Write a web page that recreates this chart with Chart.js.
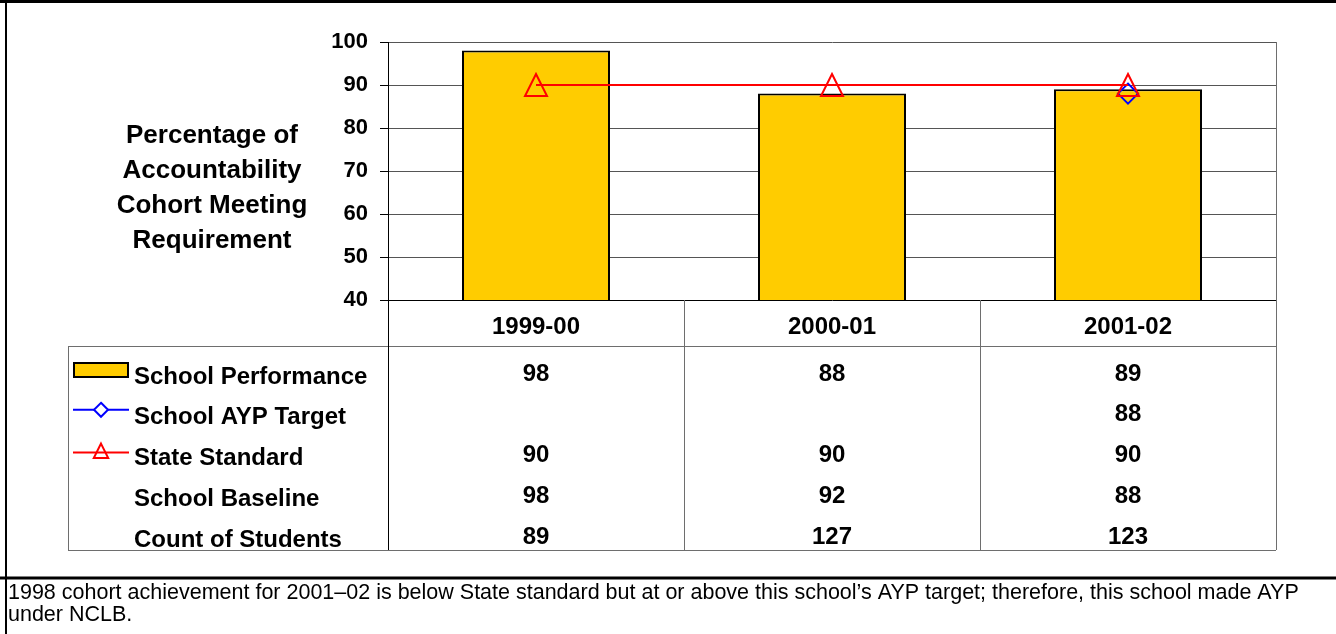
<!DOCTYPE html>
<html>
<head>
<meta charset="utf-8">
<script src="https://cdn.jsdelivr.net/npm/chart.js@4.4.1/dist/chart.umd.min.js"></script>
<style>
  body { margin: 0; background: #fff; }
  .wrap { width: 1336px; height: 634px; position: relative; }
</style>
</head>
<body>
<div class="wrap"><canvas id="chart"></canvas></div>
<script>
// data
const years = ['1999-00', '2000-01', '2001-02'];
const schoolPerformance = [98, 88, 89];
const aypTarget = [null, null, 88];
const stateStandard = [90, 90, 90];
const schoolBaseline = [98, 92, 88];
const studentCount = [89, 127, 123];
const yTicks = [40, 50, 60, 70, 80, 90, 100];

const titleLines = ['Percentage of', 'Accountability', 'Cohort Meeting', 'Requirement'];
const note = [
  '1998 cohort achievement for 2001\u201302 is below State standard but at or above this school\u2019s AYP target; therefore, this school made AYP',
  'under NCLB.'
];

const FONT = '"Liberation Sans", Arial, sans-serif';

function fmt(v) { return v == null ? '' : String(v); }

// table rows under the plot
const rows = [
  { label: 'School Performance', values: schoolPerformance, key: 'bar' },
  { label: 'School AYP Target', values: aypTarget, key: 'ayp' },
  { label: 'State Standard', values: stateStandard, key: 'state' },
  { label: 'School Baseline', values: schoolBaseline },
  { label: 'Count of Students', values: studentCount }
];

// open triangle centred on its point (chart.js puts the base lower than this)
function triangleMarker(size, color) {
  const c = document.createElement('canvas');
  c.width = size + 4;
  c.height = size + 4;
  const g = c.getContext('2d');
  g.strokeStyle = color;
  g.lineWidth = 2;
  g.beginPath();
  g.moveTo(c.width / 2, 2);
  g.lineTo(c.width - 2, c.height - 2);
  g.lineTo(2, c.height - 2);
  g.closePath();
  g.stroke();
  return c;
}

function drawTriangle(ctx, x, y, r) {
  ctx.beginPath();
  ctx.moveTo(x, y - r);
  ctx.lineTo(x + r * 0.9, y + r * 0.8);
  ctx.lineTo(x - r * 0.9, y + r * 0.8);
  ctx.closePath();
  ctx.stroke();
}

const tablePlugin = {
  id: 'tablePlugin',
  afterDraw(chart) {
    const ctx = chart.ctx;
    const area = chart.chartArea;
    const xs = chart.scales.x;
    const step = xs.getPixelForValue(1) - xs.getPixelForValue(0);
    const left = xs.getPixelForValue(0) - step / 2;
    const right = xs.getPixelForValue(years.length - 1) + step / 2;
    const headY = area.bottom + 26;
    const tableTop = area.bottom + 46;
    const rowH = 40.8;
    const firstRow = tableTop + 29;
    const tableBottom = tableTop + 204;
    const tableLeft = 68;

    ctx.save();
    // table grid
    ctx.strokeStyle = '#6e6e6e';
    ctx.lineWidth = 1;
    ctx.beginPath();
    ctx.moveTo(tableLeft, tableTop + 0.5); ctx.lineTo(right, tableTop + 0.5);
    ctx.moveTo(tableLeft, tableBottom + 0.5); ctx.lineTo(right, tableBottom + 0.5);
    ctx.moveTo(tableLeft + 0.5, tableTop); ctx.lineTo(tableLeft + 0.5, tableBottom);
    ctx.moveTo(right + 0.5, area.top); ctx.lineTo(right + 0.5, tableBottom);
    for (let i = 1; i < years.length; i++) {
      const x = Math.round(left + step * i) + 0.5;
      ctx.moveTo(x, area.bottom); ctx.lineTo(x, tableBottom);
    }
    ctx.stroke();
    ctx.strokeStyle = '#000';
    ctx.beginPath();
    ctx.moveTo(Math.round(left) + 0.5, area.bottom);
    ctx.lineTo(Math.round(left) + 0.5, tableBottom);
    ctx.stroke();

    // column headers
    ctx.fillStyle = '#000';
    ctx.textAlign = 'center';
    ctx.textBaseline = 'middle';
    ctx.font = 'bold 24px ' + FONT;
    years.forEach((y, i) => ctx.fillText(y, xs.getPixelForValue(i), headY + 1));

    // rows
    rows.forEach((row, r) => {
      const cy = firstRow + r * rowH;
      ctx.font = 'bold 24px ' + FONT;
      ctx.textAlign = 'left';
      ctx.fillText(row.label, 134, cy + 2);
      ctx.textAlign = 'center';
      row.values.forEach((v, i) => ctx.fillText(fmt(v), xs.getPixelForValue(i), cy - 1));

      ctx.lineWidth = 2;
      if (row.key === 'bar') {
        ctx.fillStyle = '#FFCC00';
        ctx.fillRect(74, cy - 12, 54, 14);
        ctx.strokeStyle = '#000';
        ctx.strokeRect(74, cy - 12, 54, 14);
        ctx.fillStyle = '#000';
      } else if (row.key === 'ayp') {
        ctx.strokeStyle = '#0000FF';
        ctx.beginPath(); ctx.moveTo(73, cy - 6); ctx.lineTo(129, cy - 6); ctx.stroke();
        ctx.fillStyle = '#fff';
        ctx.beginPath();
        ctx.moveTo(101, cy - 13); ctx.lineTo(108, cy - 6); ctx.lineTo(101, cy + 1); ctx.lineTo(94, cy - 6);
        ctx.closePath(); ctx.fill(); ctx.stroke();
        ctx.fillStyle = '#000';
      } else if (row.key === 'state') {
        ctx.strokeStyle = '#FF0000';
        ctx.beginPath(); ctx.moveTo(73, cy - 4); ctx.lineTo(129, cy - 4); ctx.stroke();
        drawTriangle(ctx, 101, cy - 5, 8);
      }
    });

    // axis title
    ctx.fillStyle = '#000';
    ctx.textAlign = 'center';
    ctx.font = 'bold 26px ' + FONT;
    titleLines.forEach((t, i) => ctx.fillText(t, 212, 136 + i * 35));

    // note under the chart
    ctx.textAlign = 'left';
    ctx.font = '21.5px ' + FONT;
    ctx.fillText(note[0], 8, 593);
    ctx.fillText(note[1], 8, 615);

    // frame
    ctx.strokeStyle = '#000';
    ctx.lineWidth = 3;
    ctx.beginPath();
    ctx.moveTo(0, 1.5); ctx.lineTo(1336, 1.5);
    ctx.moveTo(0, 578); ctx.lineTo(1336, 578);
    ctx.stroke();
    ctx.lineWidth = 2;
    ctx.beginPath();
    ctx.moveTo(6, 0); ctx.lineTo(6, 634);
    ctx.stroke();
    ctx.restore();
  }
};

new Chart(document.getElementById('chart'), {
  type: 'bar',
  data: {
    labels: years,
    datasets: [
      {
        type: 'line',
        label: 'State Standard',
        data: stateStandard,
        borderColor: '#FF0000',
        borderWidth: 2,
        pointStyle: triangleMarker(22, '#FF0000'),
        pointRadius: 12,
        order: 0
      },
      {
        type: 'line',
        label: 'School AYP Target',
        data: aypTarget,
        borderColor: '#0000FF',
        borderWidth: 2,
        pointStyle: 'rectRot',
        pointRadius: 10,
        pointBorderWidth: 2,
        pointBorderColor: '#0000FF',
        pointBackgroundColor: 'rgba(0,0,0,0)',
        order: 1
      },
      {
        label: 'School Performance',
        data: schoolPerformance,
        backgroundColor: '#FFCC00',
        borderColor: '#000',
        borderWidth: 2,
        borderSkipped: false,
        categoryPercentage: 1,
        barPercentage: 0.5,
        order: 2
      }
    ]
  },
  options: {
    responsive: true,
    maintainAspectRatio: false,
    devicePixelRatio: 1,
    animation: false,
    layout: { padding: { left: 0, top: 42, right: 60, bottom: 334 } },
    plugins: { legend: { display: false }, tooltip: { enabled: false } },
    scales: {
      x: { display: false, offset: true },
      y: {
        min: yTicks[0],
        max: yTicks[yTicks.length - 1],
        afterFit(scale) { scale.width = 388; },
        afterBuildTicks(scale) { scale.ticks = yTicks.map(v => ({ value: v })); },
        ticks: {
          color: '#000',
          padding: 12,
          font: { family: FONT, size: 22, weight: 'bold' }
        },
        grid: {
          color: ctx => ctx.tick && ctx.tick.value === yTicks[0] ? '#000' : '#555',
          tickLength: 8,
          tickColor: '#000'
        },
        border: { display: true, color: '#000', width: 1 }
      }
    }
  },
  plugins: [tablePlugin]
});
</script>
</body>
</html>
